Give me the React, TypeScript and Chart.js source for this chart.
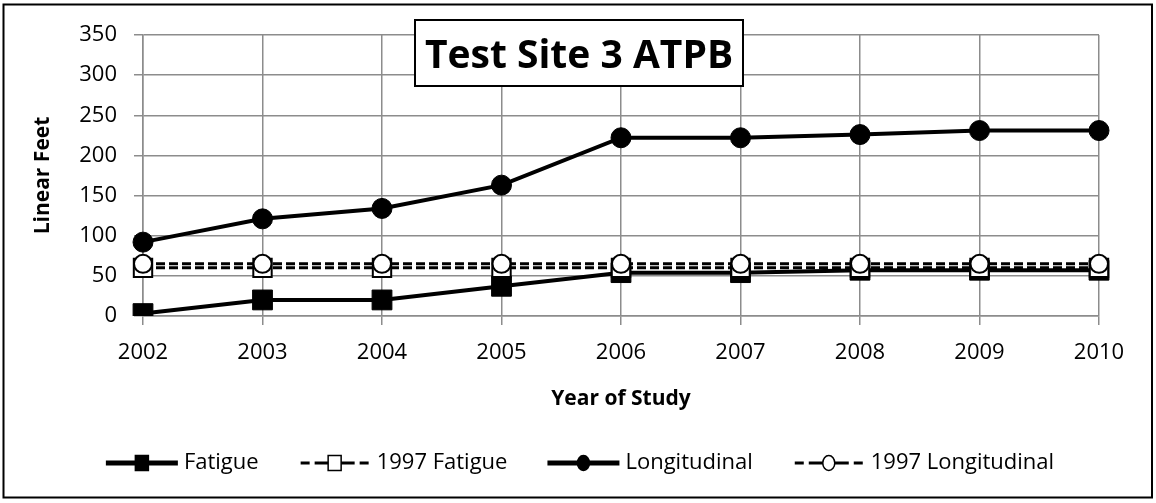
import React, { useEffect, useRef } from 'react';
import { Chart, registerables } from 'chart.js';

Chart.register(...registerables);

const years = ['2002', '2003', '2004', '2005', '2006', '2007', '2008', '2009', '2010'];
const fatigue = [3, 20, 20, 37, 54, 54, 57, 57, 57];
const fatigue1997 = [60, 60, 60, 60, 60, 60, 60, 60, 60];
const longitudinal = [92, 121, 134, 163, 222, 222, 226, 231, 231];
const longitudinal1997 = [65, 65, 65, 65, 65, 65, 65, 65, 65];
const yMin = 0;
const yMax = 350;
const yStep = 50;
const chartTitle = 'Test Site 3 ATPB';
const yTitle = 'Linear Feet';
const xTitle = 'Year of Study';

const FONT = "'Open Sans', 'DejaVu Sans', sans-serif";
const GRID = '#8c8c8c';

const framePlugin = {
  id: 'frame',
  beforeDraw(chart: any) {
    const ctx = chart.ctx;
    ctx.save();
    ctx.fillStyle = '#ffffff';
    ctx.fillRect(0, 0, chart.width, chart.height);
    ctx.restore();
  },
  afterDraw(chart: any) {
    const ctx = chart.ctx;
    ctx.save();
    // title box
    const bx = 415, by = 20, bw = 328, bh = 66;
    ctx.fillStyle = '#ffffff';
    ctx.fillRect(bx, by, bw, bh);
    ctx.strokeStyle = '#000000';
    ctx.lineWidth = 2;
    ctx.strokeRect(bx, by, bw, bh);
    ctx.fillStyle = '#000000';
    ctx.font = `bold 39px ${FONT}`;
    ctx.textAlign = 'center';
    ctx.textBaseline = 'alphabetic';
    ctx.fillText(chartTitle, bx + bw / 2, 68);

    // legend
    ctx.font = `22px ${FONT}`;
    ctx.textBaseline = 'middle';
    ctx.textAlign = 'left';
    const lineLen = 72;
    const textGap = 6;
    const itemGap = 40;
    const items = chart.data.datasets.map((ds: any) => ({
      label: ds.label,
      dash: ds.borderDash || [],
      style: ds.pointStyle,
      fill: ds.pointBackgroundColor,
      tw: ctx.measureText(ds.label).width,
    }));
    const total = items.reduce((s: number, it: any) => s + lineLen + textGap + it.tw, 0) + itemGap * (items.length - 1);
    let x = 580 - total / 2;
    const y = 463;
    for (const it of items) {
      const cx = x + lineLen / 2;
      ctx.strokeStyle = '#000000';
      if (it.dash.length) {
        ctx.lineWidth = 3;
        ctx.beginPath();
        const segs = [
          [x + 2, x + 11], [x + 16, cx - 4],
          [cx + 4, cx + 20], [cx + 25, cx + 34],
        ];
        for (const seg of segs) {
          ctx.moveTo(seg[0], y);
          ctx.lineTo(seg[1], y);
        }
        ctx.stroke();
      } else {
        ctx.lineWidth = 5;
        ctx.beginPath();
        ctx.moveTo(x, y);
        ctx.lineTo(x + lineLen, y);
        ctx.stroke();
      }
      ctx.fillStyle = it.fill;
      ctx.lineWidth = 1.5;
      ctx.beginPath();
      if (it.style === 'rect') {
        ctx.rect(cx - 6.5, y - 7.5, 13, 15);
      } else {
        ctx.ellipse(cx, y, 6, 7.5, 0, 0, Math.PI * 2);
      }
      ctx.fill();
      ctx.stroke();
      ctx.fillStyle = '#000000';
      ctx.fillText(it.label, x + lineLen + textGap, y);
      x += lineLen + textGap + it.tw + itemGap;
    }

    // outer border
    ctx.strokeStyle = '#000000';
    ctx.lineWidth = 2;
    ctx.strokeRect(3.5, 4.5, 1148.5, 493);
    ctx.restore();
  },
};

export default function App() {
  const ref = useRef<HTMLCanvasElement | null>(null);

  useEffect(() => {
    if (!ref.current) return;
    Chart.defaults.font.family = FONT;
    Chart.defaults.color = '#000000';
    const chart = new Chart(ref.current, {
      type: 'line',
      data: {
        labels: years,
        datasets: [
          {
            label: 'Fatigue',
            data: fatigue,
            borderColor: '#000000',
            borderWidth: 4,
            pointStyle: 'rect',
            pointRadius: 14,
            pointBackgroundColor: '#000000',
            pointBorderColor: '#000000',
            pointBorderWidth: 1,
            order: 3,
          },
          {
            label: '1997 Fatigue',
            data: fatigue1997,
            borderColor: '#000000',
            borderWidth: 3,
            borderDash: [9, 4],
            pointStyle: 'rect',
            pointRadius: 13,
            pointBackgroundColor: '#ffffff',
            pointBorderColor: '#000000',
            pointBorderWidth: 2,
            order: 2,
          },
          {
            label: 'Longitudinal',
            data: longitudinal,
            borderColor: '#000000',
            borderWidth: 4,
            pointStyle: 'circle',
            pointRadius: 10,
            pointBackgroundColor: '#000000',
            pointBorderColor: '#000000',
            pointBorderWidth: 1,
            order: 1,
          },
          {
            label: '1997 Longitudinal',
            data: longitudinal1997,
            borderColor: '#000000',
            borderWidth: 3,
            borderDash: [9, 4],
            pointStyle: 'circle',
            pointRadius: 9,
            pointBackgroundColor: '#ffffff',
            pointBorderColor: '#000000',
            pointBorderWidth: 2,
            order: 0,
          },
        ],
      },
      options: {
        responsive: false,
        animation: false,
        devicePixelRatio: 1,
        layout: { padding: { left: 0, top: 35, right: 57, bottom: 87 } },
        plugins: {
          legend: { display: false },
          title: { display: false },
          tooltip: { enabled: false },
        },
        scales: {
          x: {
            offset: false,
            grid: { color: GRID, lineWidth: 1.5, tickLength: 9, drawTicks: true },
            border: { color: GRID, width: 1.5 },
            ticks: { font: { size: 22 }, padding: 15, color: '#000000', maxRotation: 0 },
            title: {
              display: true,
              text: xTitle,
              font: { size: 21, weight: 'bold' },
              color: '#000000',
              padding: { top: 0, bottom: 4 },
            },
            afterFit: (scale: any) => {
              scale.height = 100;
            },
          },
          y: {
            min: yMin,
            max: yMax,
            grid: { color: GRID, lineWidth: 1.5, tickLength: 9, drawTicks: true },
            border: { color: GRID, width: 1.5 },
            ticks: { stepSize: yStep, font: { size: 22 }, padding: 17, color: '#000000' },
            title: {
              display: true,
              text: yTitle,
              font: { size: 21, weight: 'bold' },
              color: '#000000',
              padding: { top: 30, bottom: 0 },
            },
            afterFit: (scale: any) => {
              scale.width = 143;
            },
          },
        },
      },
      plugins: [framePlugin],
    });
    return () => chart.destroy();
  }, []);

  return (
    <div style={{ position: 'absolute', left: 0, top: 0, width: 1156, height: 503 }}>
      <canvas ref={ref} width={1156} height={503} />
    </div>
  );
}
